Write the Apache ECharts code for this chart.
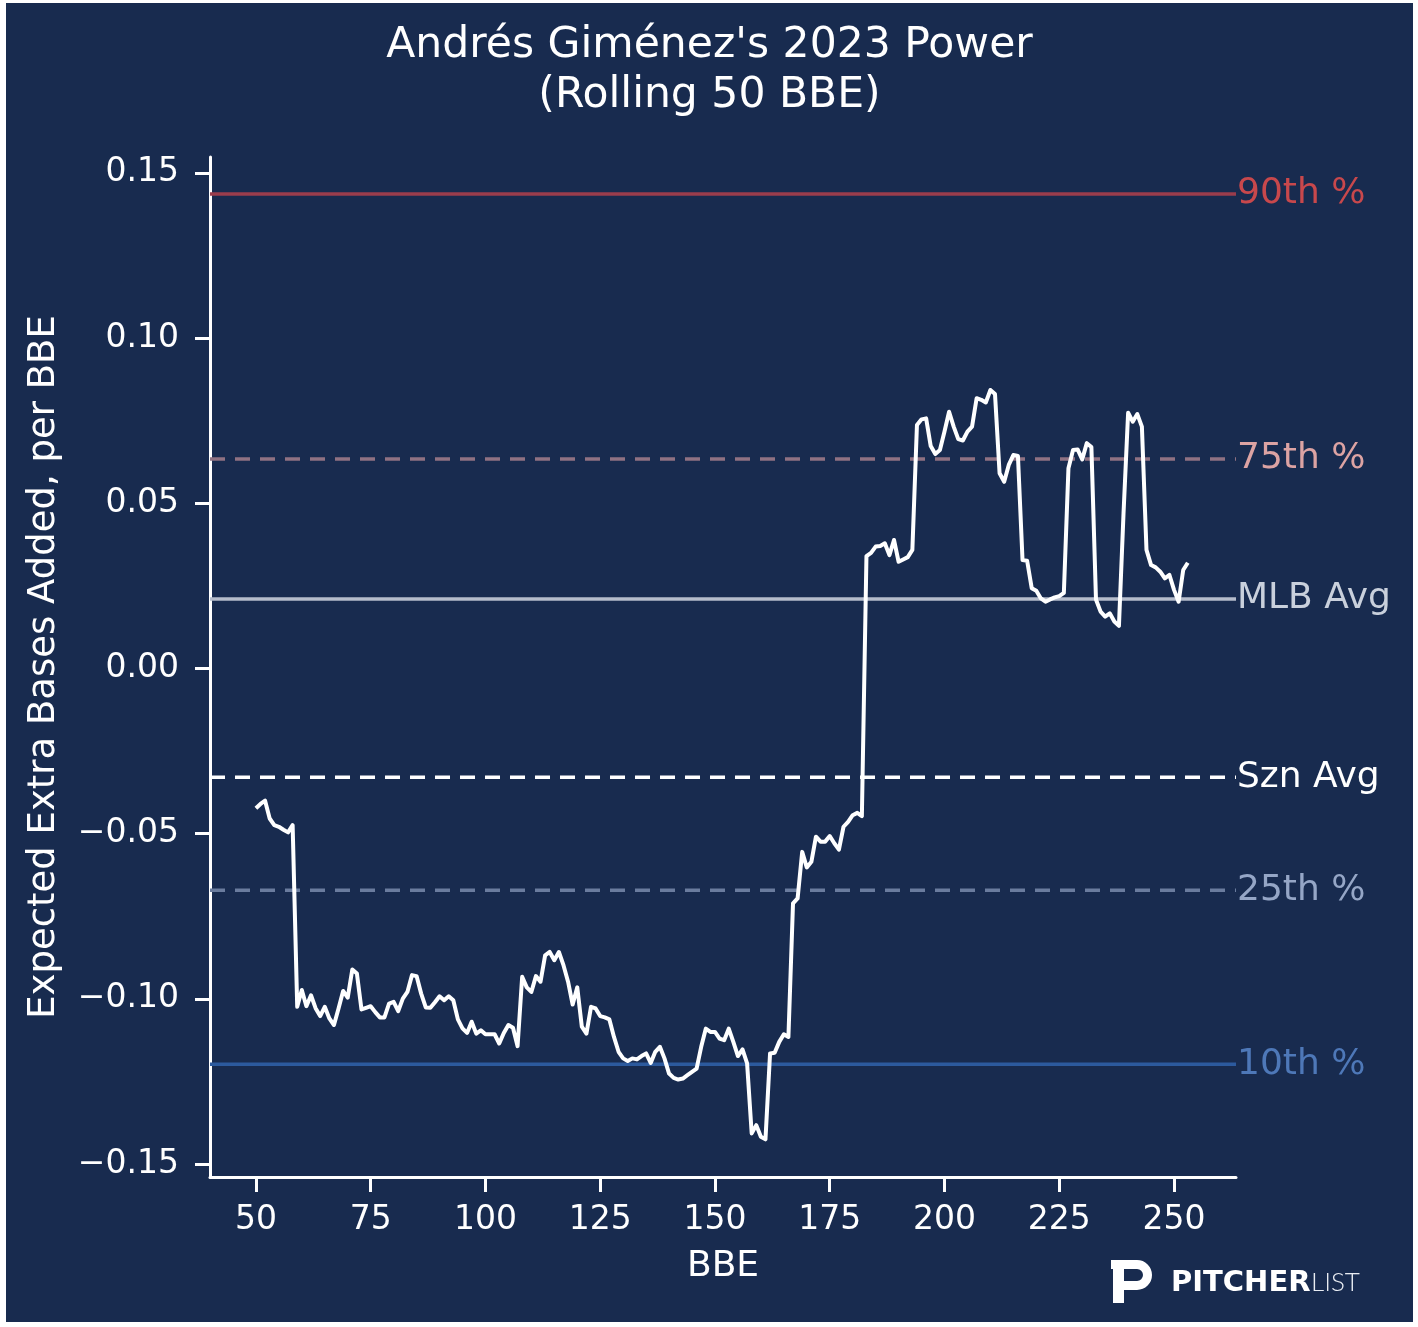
<!DOCTYPE html>
<html>
<head>
<meta charset="utf-8">
<script src="https://cdn.jsdelivr.net/npm/echarts@6/dist/echarts.min.js"></script>
<style>
  html, body { margin: 0; padding: 0; background: #ffffff; }
  #c { position: absolute; left: 6px; top: 3px; width: 1407px; height: 1319px; }
</style>
</head>
<body>
<div id="c"></div>
<script>
// ---------------- data ----------------
const titleLines = ["Andrés Giménez's 2023 Power", "(Rolling 50 BBE)"];
const xName = "BBE";
const yName = "Expected Extra Bases Added, per BBE";
const firstBBE = 50;
const rollingXba = [
  -0.0423, -0.0410, -0.0400, -0.0454, -0.0474, -0.0479, -0.0488, -0.0496, -0.0474, -0.1024,
  -0.0973, -0.1022, -0.0989, -0.1028, -0.1052, -0.1024, -0.1059, -0.1079, -0.1029, -0.0976,
  -0.0996, -0.0911, -0.0923, -0.1032, -0.1027, -0.1022, -0.1040, -0.1056, -0.1056, -0.1014,
  -0.1009, -0.1037, -0.0999, -0.0979, -0.0928, -0.0931, -0.0984, -0.1026, -0.1027, -0.1010,
  -0.0992, -0.1004, -0.0992, -0.1004, -0.1062, -0.1089, -0.1103, -0.1069, -0.1105, -0.1095,
  -0.1107, -0.1107, -0.1107, -0.1135, -0.1103, -0.1079, -0.1087, -0.1143, -0.0933, -0.0965,
  -0.0979, -0.0931, -0.0948, -0.0868, -0.0858, -0.0883, -0.0858, -0.0898, -0.0948, -0.1017,
  -0.0965, -0.1084, -0.1105, -0.1024, -0.1029, -0.1052, -0.1056, -0.1062, -0.1115, -0.1160,
  -0.1180, -0.1188, -0.1180, -0.1183, -0.1173, -0.1165, -0.1194, -0.1160, -0.1145, -0.1180,
  -0.1226, -0.1239, -0.1244, -0.1241, -0.1231, -0.1221, -0.1211, -0.1145, -0.1090, -0.1100,
  -0.1100, -0.1120, -0.1125, -0.1090, -0.1130, -0.1173, -0.1153, -0.1195, -0.1407, -0.1382,
  -0.1417, -0.1425, -0.1165, -0.1163, -0.1130, -0.1107, -0.1115, -0.0711, -0.0696, -0.0555,
  -0.0602, -0.0585, -0.0509, -0.0524, -0.0524, -0.0507, -0.0529, -0.0548, -0.0479, -0.0464,
  -0.0444, -0.0437, -0.0447, 0.0340, 0.0350, 0.0369, 0.0371, 0.0379, 0.0343, 0.0389,
  0.0323, 0.0330, 0.0337, 0.0359, 0.0737, 0.0754, 0.0757, 0.0673, 0.0649, 0.0661,
  0.0717, 0.0777, 0.0732, 0.0694, 0.0690, 0.0717, 0.0732, 0.0818, 0.0813, 0.0805,
  0.0843, 0.0831, 0.0591, 0.0565, 0.0616, 0.0646, 0.0643, 0.0328, 0.0326, 0.0243,
  0.0235, 0.0212, 0.0202, 0.0209, 0.0215, 0.0219, 0.0229, 0.0606, 0.0661, 0.0663,
  0.0633, 0.0682, 0.0670, 0.0209, 0.0172, 0.0157, 0.0167, 0.0142, 0.0129, 0.0470,
  0.0774, 0.0747, 0.0770, 0.0732, 0.0359, 0.0313, 0.0306, 0.0293, 0.0273, 0.0283,
  0.0238, 0.0202, 0.0298, 0.0320
];
const xTicks = [50, 75, 100, 125, 150, 175, 200, 225, 250];
const yTicks = [-0.15, -0.10, -0.05, 0.00, 0.05, 0.10, 0.15];
const refLabels = ["90th %", "75th %", "MLB Avg", "Szn Avg", "25th %", "10th %"];
const refValues = [0.1436, 0.0634, 0.0210, -0.0329, -0.0671, -0.1198];
const xMin = 40, xMax = 263.5, yMin = -0.1539, yMax = 0.1548;

// ---------------- styles ----------------
const BG = '#182b4f';
const FONT = 'DejaVu Sans';
const refStyles = [
  { line: '#9a3d4c', text: '#c8484c', type: 'solid' },
  { line: '#8f7283', text: '#dca3a3', type: [15, 10] },
  { line: '#b5bccb', text: '#c9d0dc', type: 'solid' },
  { line: '#ffffff', text: '#ffffff', type: [15, 10] },
  { line: '#6a7c9e', text: '#95a6c6', type: [15, 10] },
  { line: '#2c5a9e', text: '#4e78b8', type: 'solid' }
];

const seriesData = rollingXba.map((v, i) => [firstBBE + i, v]);
const fmtY = v => (v < 0 ? '\u2212' : '') + Math.abs(v).toFixed(2);

const refSeries = refValues.map((v, i) => ({
  type: 'line',
  name: refLabels[i],
  data: [[xMin, v], [xMax, v]],
  z: 1,
  silent: true,
  showSymbol: false,
  symbol: 'none',
  lineStyle: { color: refStyles[i].line, width: 3.5, type: refStyles[i].type },
  endLabel: {
    show: true,
    formatter: refLabels[i],
    distance: 1,
    color: refStyles[i].text,
    fontSize: 36,
    fontFamily: FONT
  }
}));

const chart = echarts.init(document.getElementById('c'), null, { renderer: 'canvas' });
chart.setOption({
  backgroundColor: BG,
  animation: false,
  textStyle: { fontFamily: FONT },
  title: {
    text: titleLines.join('\n'),
    left: 'center',
    top: 13,
    textStyle: { color: '#ffffff', fontFamily: FONT, fontSize: 42.5, fontWeight: 'normal', lineHeight: 50 }
  },
  grid: { left: 204, top: 154, width: 1026, height: 1020, outerBoundsMode: 'none' },
  xAxis: {
    type: 'value',
    min: xMin,
    max: xMax,
    name: xName,
    nameLocation: 'middle',
    nameGap: 72,
    nameTextStyle: { color: '#ffffff', fontSize: 36, fontFamily: FONT },
    axisLine: { show: true, onZero: false, lineStyle: { color: '#ffffff', width: 3 } },
    axisTick: { show: true, customValues: xTicks, length: 15, lineStyle: { color: '#ffffff', width: 3 } },
    axisLabel: { customValues: xTicks, color: '#ffffff', fontSize: 33, fontFamily: FONT, margin: 27 },
    splitLine: { show: false }
  },
  yAxis: {
    type: 'value',
    min: yMin,
    max: yMax,
    name: yName,
    nameLocation: 'middle',
    nameGap: 147,
    nameTextStyle: { color: '#ffffff', fontSize: 37, fontFamily: FONT },
    axisLine: { show: true, onZero: false, lineStyle: { color: '#ffffff', width: 3 } },
    axisTick: { show: true, customValues: yTicks, length: 15, lineStyle: { color: '#ffffff', width: 3 } },
    axisLabel: { customValues: yTicks, color: '#ffffff', fontSize: 33, fontFamily: FONT, margin: 31, formatter: fmtY },
    splitLine: { show: false }
  },
  series: refSeries.concat([
    {
      type: 'line',
      name: 'rolling',
      data: seriesData,
      z: 5,
      showSymbol: false,
      symbol: 'none',
      lineStyle: { color: '#ffffff', width: 4, join: 'round' },
      silent: true
    }
  ]),
  graphic: [
    { type: 'rect', shape: { x: 1105, y: 1257, width: 26, height: 9 }, style: { fill: '#ffffff' } },
    { type: 'rect', shape: { x: 1107, y: 1257, width: 11, height: 43 }, style: { fill: '#ffffff' } },
    { type: 'rect', shape: { x: 1118, y: 1278, width: 13, height: 9 }, style: { fill: '#ffffff' } },
    { type: 'sector', shape: { cx: 1131, cy: 1272, r: 15, r0: 6, startAngle: -Math.PI / 2, endAngle: Math.PI / 2, clockwise: true }, style: { fill: '#ffffff' } },
    {
      type: 'text',
      x: 1165, y: 1280,
      style: { text: 'PITCHER', fill: '#ffffff', font: 'bold 29px "DejaVu Sans"', verticalAlign: 'middle' }
    },
    {
      type: 'text',
      x: 1305, y: 1280,
      style: { text: 'LIST', fill: '#e8ecf2', font: '300 26px Lato', verticalAlign: 'middle' }
    }
  ]
});
</script>
</body>
</html>
